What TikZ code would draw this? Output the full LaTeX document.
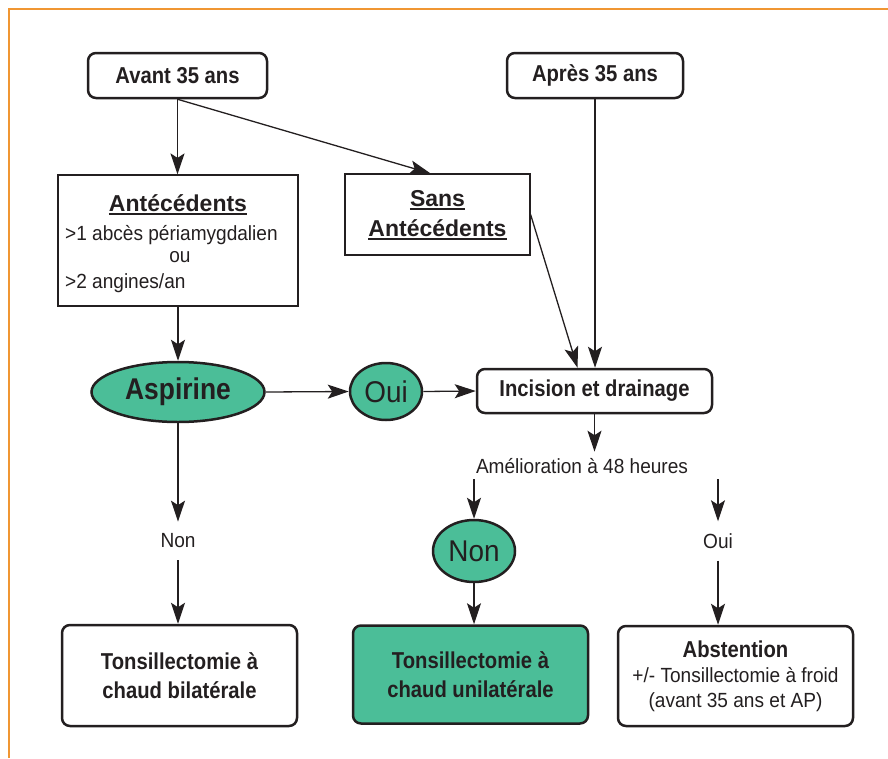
\documentclass[tikz,border=0pt]{standalone}
\usepackage{fontspec}
\setmainfont{Liberation Sans}
\newfontfamily\bcond{Liberation Sans}[FakeStretch=0.88]
\newfontfamily\rcond{Liberation Sans}[FakeStretch=0.93]
\usetikzlibrary{arrows.meta,shapes.geometric}
\definecolor{ink}{RGB}{35,31,32}
\definecolor{teal2}{RGB}{75,190,152}
\definecolor{orange1}{RGB}{240,150,50}
\newcommand{\boldlab}{\bcond\bfseries\fontsize{23}{29}\selectfont}
\newcommand{\reglab}{\rcond\fontsize{20.5}{25}\selectfont}
\newcommand{\widebold}{\normalfont\bfseries\fontsize{23}{27}\selectfont}
\newcommand{\biglab}{\rcond\fontsize{30}{34}\selectfont}
\tikzset{
  rbox/.style={draw=ink, line width=2.5pt, rounded corners=8pt, fill=white, align=center, inner sep=0pt, text=ink, font=\boldlab},
  pbox/.style={draw=ink, line width=1.2pt, inner sep=0pt},
  oval/.style={ellipse, draw=ink, line width=2.5pt, fill=teal2, inner sep=0pt, text=ink},
  link/.style={draw=ink, line width=1.3pt, -{Stealth[length=21pt,width=14pt,inset=4.5pt]}},
  lbl/.style={inner sep=0pt, text=ink},
  uline/.style={draw=ink, line width=1.8pt}
}
\begin{document}
\begin{tikzpicture}[x=1pt,y=-1pt]
\useasboundingbox (0,0) rectangle (888,758);
\draw[orange1, line width=1.2pt] (9,758) -- (9,9) -- (888,9);

% top boxes
\node[rbox, minimum width=179pt, minimum height=45pt] (avant) at (177.5,75.5) {Avant 35 ans};
\node[rbox, minimum width=176pt, minimum height=45pt] (apres) at (595,75.5) {Après 35 ans};

% antecedents box
\node[pbox, minimum width=240pt, minimum height=131pt] (ant) at (178,240.5) {};
\node[lbl, anchor=base, font=\widebold] (antT) at (178,211) {Antécédents};
\draw[uline] ([yshift=-3pt]antT.base west) -- ([yshift=-3pt]antT.base east);
\node[lbl, anchor=base west, font=\reglab] (antA) at (65,240) {>1 abcès périamygdalien};
\node[lbl, anchor=base, font=\reglab] (antB) at (180,262) {ou};
\node[lbl, anchor=base west, font=\reglab] (antC) at (65,288) {>2 angines/an};

% sans antecedents box
\node[pbox, minimum width=185pt, minimum height=81pt] (sans) at (437.5,214.5) {};
\node[lbl, anchor=base, font=\widebold] (sansA) at (437.5,206) {Sans};
\draw[uline] ([yshift=-3pt]sansA.base west) -- ([yshift=-3pt]sansA.base east);
\node[lbl, anchor=base, font=\widebold] (sansB) at (437.5,236) {Antécédents};
\draw[uline] ([yshift=-3pt]sansB.base west) -- ([yshift=-3pt]sansB.base east);

% middle row
\node[oval, minimum width=173pt, minimum height=60pt, font=\bcond\bfseries\fontsize{30}{34}\selectfont] (asp) at (178,392) {Aspirine};
\node[oval, minimum width=72pt, minimum height=57pt, font=\biglab] (oui) at (386,391.5) {Oui};
\node[rbox, minimum width=235pt, minimum height=44pt] (inc) at (594.5,391) {Incision et drainage};

\node[lbl, anchor=base, inner ysep=6pt, font=\reglab] (amel) at (582,473) {Amélioration à 48 heures};
\node[oval, minimum width=82pt, minimum height=62pt, font=\biglab] (nonE) at (474,551) {Non};
\node[lbl, inner ysep=12pt, font=\reglab] (nonL) at (178,541) {Non};
\node[lbl, inner ysep=12pt, font=\reglab] (ouiR) at (718,541) {Oui};

% bottom boxes
\node[rbox, minimum width=235pt, minimum height=101pt] (lb) at (179.5,675.5) {Tonsillectomie à\\chaud bilatérale};
\node[rbox, fill=teal2, minimum width=235pt, minimum height=98pt] (mb) at (470.5,674.5) {Tonsillectomie à\\chaud unilatérale};
\node[rbox, minimum width=235pt, minimum height=100pt, font=\reglab] (abst) at (735.5,676) {{\boldlab Abstention}\\+/- Tonsillectomie à froid\\(avant 35 ans et AP)};

% connectors
\draw[link] (avant.south) -- (avant.south |- ant.north);
\draw[link] (avant.south) -- ([xshift=-7pt]sans.north);
\draw[link] (apres.south) -- (apres.south |- inc.north);
\draw[link] (sans.east) -- ([xshift=-17pt]inc.north);
\draw[link] (ant.south) -- (asp.north);
\draw[link] (asp.east) -- (oui.west);
\draw[link] (oui.east) -- (inc.west);
\draw[link] (inc.south) -- (inc.south |- amel.north);
\draw[link] (asp.south) -- (nonL.north);
\draw[link] (nonL.south) -- (nonL.south |- lb.north);
\draw[link] (nonE.north |- amel.south) -- (nonE.north);
\draw[link] (nonE.south) -- (nonE.south |- mb.north);
\draw[link] (ouiR.north |- amel.south) -- (ouiR.north);
\draw[link] (ouiR.south) -- (ouiR.south |- abst.north);
\end{tikzpicture}
\end{document}
